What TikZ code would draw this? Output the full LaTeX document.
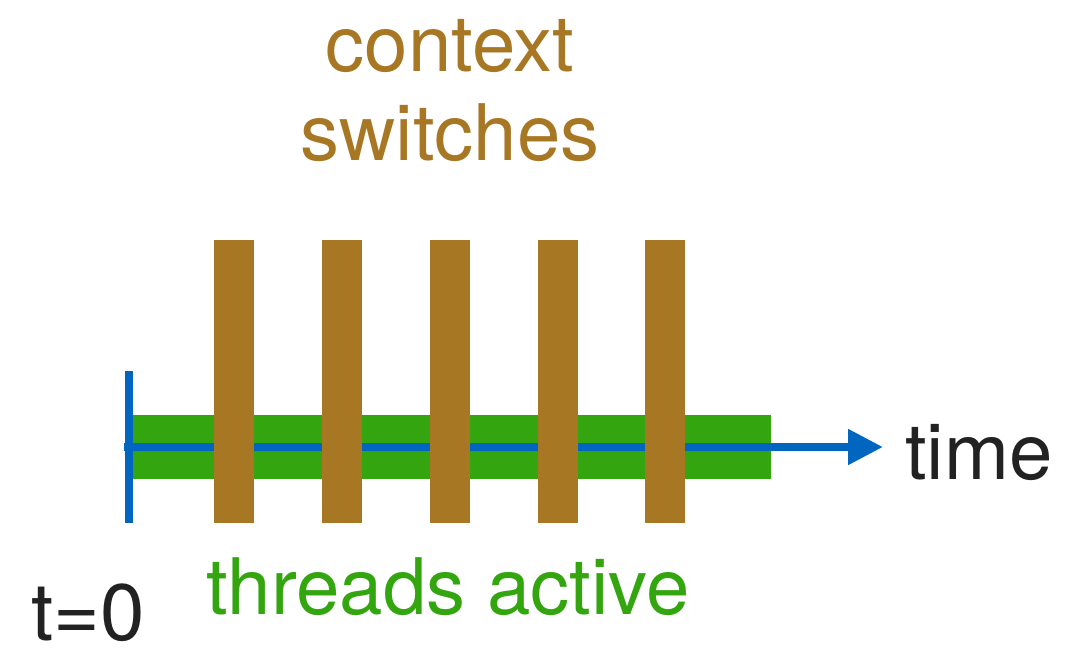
\documentclass[tikz,border=0pt]{standalone}
\usepackage{fontspec}
\setmainfont{TeX Gyre Heros}
\usetikzlibrary{arrows.meta}
\definecolor{cbrown}{RGB}{168,119,36}
\definecolor{cgreen}{RGB}{50,165,15}
\definecolor{cblue}{RGB}{0,102,192}
\definecolor{cdark}{RGB}{34,34,34}
\tikzset{
  bigtext/.style={font=\fontsize{78}{89}\selectfont, inner sep=0pt},
  switchbar/.style={fill=cbrown, draw=none, minimum width=40pt, minimum height=283pt, inner sep=0pt},
  axisline/.style={draw=cblue, line width=8pt},
}
\begin{document}
\begin{tikzpicture}[x=1pt,y=-1pt]
\useasboundingbox (0,0) rectangle (1066,649);
% active threads bar
\node[fill=cgreen, draw=none, inner sep=0pt, minimum width=643pt, minimum height=64pt, anchor=north west] (active) at (128,415) {};
% axes
\coordinate (hstart) at (124,447);
\coordinate (hend) at (883,447);
\coordinate (vtop) at (128.5,371);
\coordinate (vbot) at (128.5,523);
\draw[axisline] (vtop) -- (vbot);
\draw[axisline, -{Triangle[length=35pt,width=34pt]}] (hstart) -- (hend);
% context switch bars
\foreach \x/\n in {234/s1, 341.5/s2, 449.5/s3, 557.5/s4, 664.5/s5}
  \node[switchbar] (\n) at (\x,381.5) {};
% labels
\node[bigtext, text=cbrown, anchor=base] (ctx) at (450,71) {context};
\node[bigtext, text=cbrown, anchor=base] (sw) at (450,160) {switches};
\node[bigtext, text=cdark, anchor=base west] (time) at (905,479) {time};
\node[bigtext, text=cgreen, anchor=base] (thr) at (448,614) {threads active};
\node[bigtext, font=\fontsize{80}{90}\selectfont, text=cdark, anchor=base west] (t0) at (31,640) {t=0};
\end{tikzpicture}
\end{document}
